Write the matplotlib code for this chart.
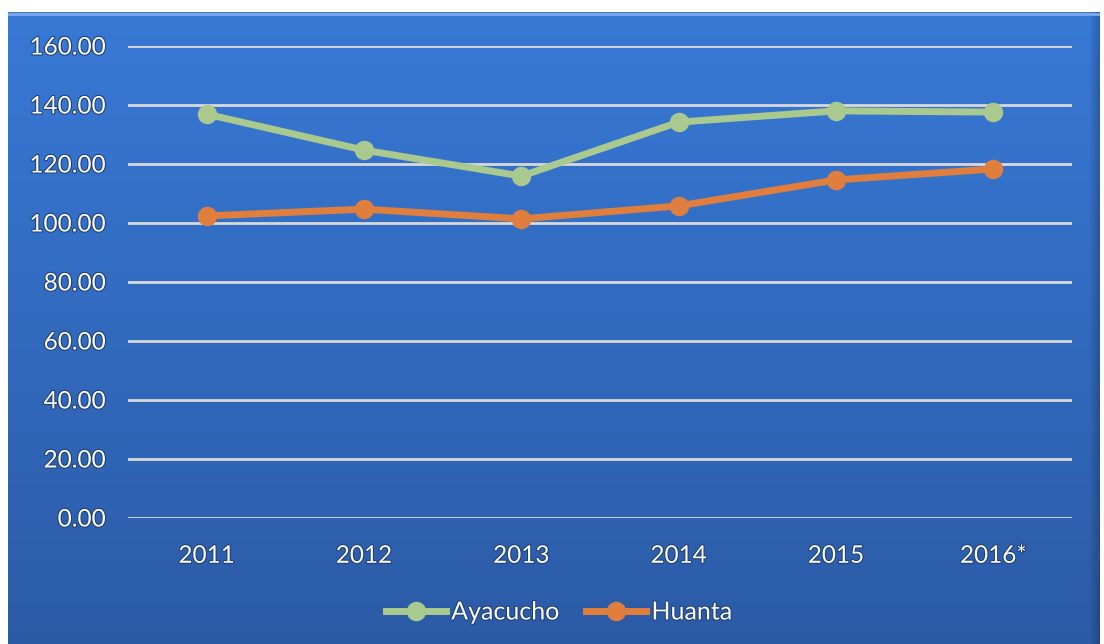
import numpy as np
import matplotlib.pyplot as plt
import matplotlib.patheffects as pe

# data
years = ['2011', '2012', '2013', '2014', '2015', '2016*']
ayacucho = [136.9, 124.7, 115.9, 134.2, 138.0, 137.6]
huanta = [102.4, 104.7, 101.4, 105.8, 114.6, 118.3]

W, H = 1104, 644
fig = plt.figure(figsize=(W / 100, H / 100), dpi=100, facecolor='white')

# blue gradient frame behind the chart
bg = fig.add_axes([8 / W, 0, (1100 - 8) / W, (H - 12) / H])
bg.set_axis_off()
top = np.array([0x38, 0x79, 0xD6]) / 255
bot = np.array([0x2C, 0x5B, 0xA6]) / 255
t = np.linspace(0, 1, 256)[:, None, None]
ncol = 546
img = np.repeat(top * (1 - t) + bot * t, ncol, axis=1)
# darker right edge
img[:, -6:] *= np.linspace(1, 0.8, 6)[None, :, None]
bg.imshow(img, aspect='auto', extent=[0, 1, 0, 1], interpolation='nearest')
bg.axhline(0.997, color='#7fa8e8', lw=2)
bg.set_xlim(0, 1)
bg.set_ylim(0, 1)

ax = fig.add_axes([128 / W, 1 - 518 / H, (1072 - 128) / W, (518 - 46) / H])
ax.patch.set_alpha(0)
x = np.arange(len(years))
ax.set_xlim(-0.5, len(years) - 0.5)
ax.set_ylim(0, 160)
ax.set_yticks(np.arange(0, 161, 20))
ax.set_yticklabels([f'{v:.2f}' for v in np.arange(0, 161, 20)])
ax.set_xticks(x)
ax.set_xticklabels(years)
ax.grid(axis='y', color='#d9d9d9', lw=2)
ax.set_axisbelow(True)
for s in ax.spines.values():
    s.set_visible(False)
ax.tick_params(length=0, colors='white', labelsize=17.5)
ax.tick_params(axis='y', pad=16)
ax.tick_params(axis='x', pad=20)
shadow = [pe.withStroke(linewidth=1.5, foreground='#1e3f75')]
for lab in ax.get_xticklabels() + ax.get_yticklabels():
    lab.set_fontfamily('Lato')
    lab.set_path_effects(shadow)

ax.plot(x, ayacucho, color='#A9C98F', lw=5, marker='o', ms=13, label='Ayacucho', clip_on=False)
ax.plot(x, huanta, color='#E07E3E', lw=5, marker='o', ms=13, label='Huanta', clip_on=False)

leg = ax.legend(loc='center', bbox_to_anchor=((559 - 128) / 944, -(612 - 518) / (518 - 46)), ncol=2,
                frameon=False, handlelength=2.4, handletextpad=0.2, columnspacing=1.1,
                prop={'family': 'Lato', 'size': 18})
for txt in leg.get_texts():
    txt.set_color('white')
    txt.set_path_effects(shadow)

fig.savefig('out.png', dpi=100, facecolor='white')
